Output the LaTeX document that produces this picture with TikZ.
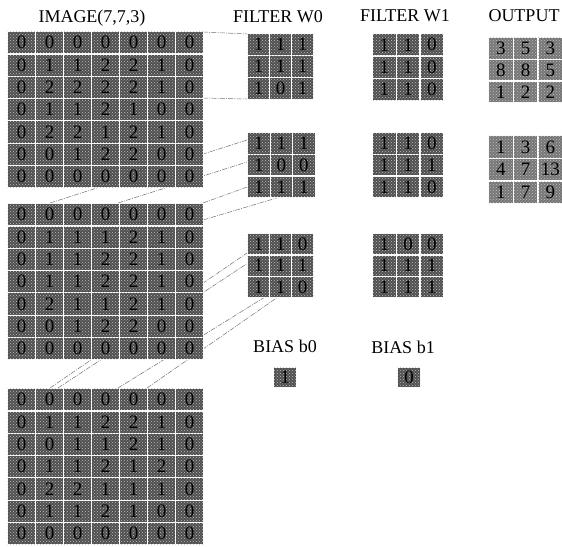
\documentclass[tikz,border=0pt]{standalone}
\usepackage{fontspec}
\usetikzlibrary{patterns}
\setmainfont{Liberation Serif}
\definecolor{cellgray}{HTML}{4F4F4F}
\definecolor{outgray}{HTML}{767676}
\definecolor{linegray}{HTML}{707070}
\newcommand{\mkgrid}[7][cellgray]{%
  \foreach \row [count=\i from 0] in {#7} {
    \foreach \v [count=\j from 0] in \row {
      \node[cell, fill=#1, minimum width=#5pt, minimum height=#6pt]
        (#2-\i-\j) at ({#3+\j*#5},{#4+\i*#6}) {\v};
    }
  }%
}
\begin{document}
\begin{tikzpicture}[x=1pt,y=-1pt,
  cell/.style={draw=white, line width=1.2pt, inner sep=0pt, anchor=north west,
    font=\fontsize{19}{19}\selectfont, text=black,
    postaction={pattern=crosshatch dots, pattern color=white!75!black}},
  title/.style={font=\fontsize{18}{20}\selectfont, inner sep=0pt, anchor=center},
  conn/.style={draw=linegray, line width=0.5pt, dash pattern=on 5pt off 1.2pt on 1pt off 1.2pt}]
\useasboundingbox (0,0) rectangle (562,546);
% connector end points
\coordinate (s9) at (203,32);   \coordinate (t9) at (247,34);
\coordinate (s10) at (203,98);  \coordinate (t10) at (247,99);
\coordinate (s1) at (50,203);   \coordinate (t1) at (247,140);
\coordinate (s2) at (118,203);  \coordinate (t2) at (247,162);
\coordinate (s3) at (203,203);  \coordinate (t3) at (247,187);
\coordinate (s4) at (203,220);  \coordinate (t4) at (280,197);
\coordinate (s5) at (50,388);   \coordinate (t5) at (247,253);
\coordinate (s6) at (58,388);   \coordinate (t6) at (248,263);
\coordinate (s7) at (118,388);  \coordinate (t7) at (265,297);
\coordinate (s8) at (147,388);  \coordinate (t8) at (278,297);
\foreach \k in {1,...,10} { \draw[conn] (s\k) -- (t\k); }
% image channels
\mkgrid{ga}{7}{31}{28}{22.3}{{0,0,0,0,0,0,0},{0,1,1,2,2,1,0},{0,2,2,2,2,1,0},{0,1,1,2,1,0,0},{0,2,2,1,2,1,0},{0,0,1,2,2,0,0},{0,0,0,0,0,0,0}}
\mkgrid{gb}{7}{203}{28}{22.3}{{0,0,0,0,0,0,0},{0,1,1,1,2,1,0},{0,1,1,2,2,1,0},{0,1,1,2,2,1,0},{0,2,1,1,2,1,0},{0,0,1,2,2,0,0},{0,0,0,0,0,0,0}}
\mkgrid{gc}{7}{388}{28}{22.3}{{0,0,0,0,0,0,0},{0,1,1,2,2,1,0},{0,0,1,1,2,1,0},{0,1,1,2,1,2,0},{0,2,2,1,1,1,0},{0,1,1,2,1,0,0},{0,0,0,0,0,0,0}}
% filter W0
\mkgrid{wa}{247}{33}{22}{22}{{1,1,1},{1,1,1},{1,0,1}}
\mkgrid{wb}{247}{132}{22.5}{21.7}{{1,1,1},{1,0,0},{1,1,1}}
\mkgrid{wc}{247}{233}{22}{21.3}{{1,1,0},{1,1,1},{1,1,0}}
% filter W1
\mkgrid{va}{372}{33}{23.7}{22.3}{{1,1,0},{1,1,0},{1,1,0}}
\mkgrid{vb}{372}{132}{23.7}{21.7}{{1,1,0},{1,1,1},{1,1,0}}
\mkgrid{vc}{372}{233}{23.7}{21.3}{{1,0,0},{1,1,1},{1,1,1}}
% output
\mkgrid[outgray]{oa}{488}{37}{24.7}{21.7}{{3,5,3},{8,8,5},{1,2,2}}
\mkgrid[outgray]{ob}{488}{135}{24.7}{22.7}{{1,3,6},{4,7,13},{1,7,9}}
% biases
\node[cell, fill=cellgray, minimum width=23pt, minimum height=20pt] (b0) at (273,367) {1};
\node[cell, fill=cellgray, minimum width=23pt, minimum height=20pt] (b1) at (397,367) {0};
% titles
\node[title] (timg) at (92,18) {IMAGE(7,7,3)};
\node[title] (tw0) at (278,17) {FILTER W0};
\node[title] (tw1) at (405,16) {FILTER W1};
\node[title] (tout) at (524,16) {OUTPUT};
\node[title] (tb0) at (285,346) {BIAS b0};
\node[title] (tb1) at (403,347) {BIAS b1};
\end{tikzpicture}
\end{document}
